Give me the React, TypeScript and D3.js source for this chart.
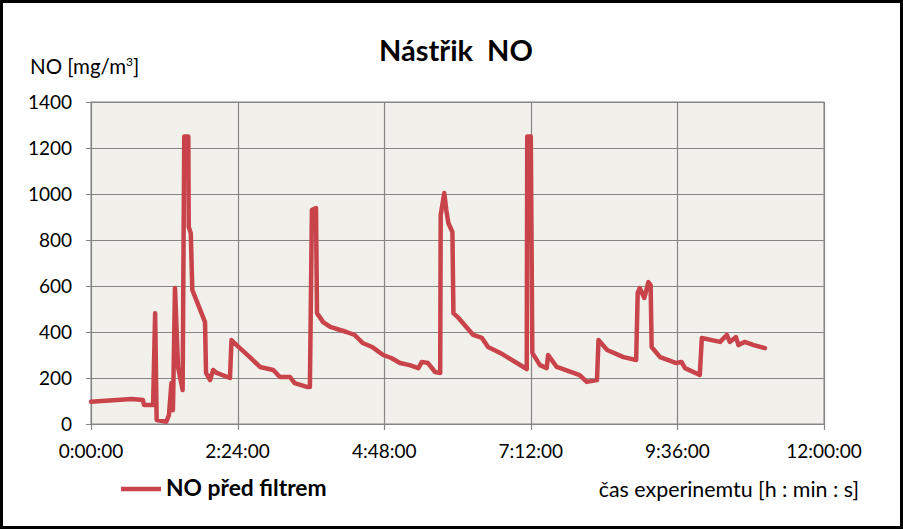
import * as React from "react";
import * as d3 from "d3";

// time since start of experiment [min]
const timeMin = [
  0, 40, 51, 52, 61, 63, 64.5, 74, 76.6, 79, 80.5, 82.5, 85.5, 90, 91.6, 95.6, 96, 98, 99.5,
  112, 113, 117, 120, 123.5, 136.5, 138, 143, 156, 166, 179, 185.6, 195.5, 200, 212, 215,
  217, 221, 222, 228, 235, 251, 259, 267, 276, 287, 295, 303.5, 313, 321.5, 325, 331, 338,
  343, 343.5, 347, 349, 351, 355, 356, 361, 375.5, 384, 390, 402, 428, 428.5, 432, 433.5,
  441, 447.6, 449, 457.5, 474, 480, 487, 497, 498.5, 507, 523, 535.5, 537, 539, 543.5,
  547.5, 549.7, 550.7, 559, 575, 580, 583.5, 598, 600, 618, 624.5, 627.5, 633.5, 636, 642,
  651, 662,
];

// NO před filtrem [mg/m3]
const noValues = [
  97, 109, 104, 83, 83, 482, 17, 10, 39, 178, 60, 591, 248, 148, 1250, 1250, 857, 830, 583,
  443, 222, 191, 235, 222, 200, 365, 343, 291, 248, 235, 204, 204, 178, 161, 161,
  930, 939, 482, 443, 422, 400, 387, 352, 335, 300, 287, 265, 256, 243, 270, 265, 226,
  222, 909, 1004, 930, 874, 835, 482, 461, 387, 374, 335, 309, 239, 1250, 1250, 309,
  256, 243, 300, 248, 222, 213, 183, 191, 365, 322, 291, 278, 570, 591, 548,
  617, 604, 335, 291, 265, 270, 243, 213, 374, 357, 387, 357, 378, 343, 357,
  343, 330,
];

const xTicks = [0, 144, 288, 432, 576, 720];
const yTicks = [0, 200, 400, 600, 800, 1000, 1200, 1400];

const title = "Nástřik  NO";
const seriesName = "NO před filtrem";
const xTitle = "čas experinemtu [h : min : s]";

function fmtTime(m: number) {
  const h = Math.floor(m / 60);
  const mm = Math.round(m % 60);
  return `${h}:${String(mm).padStart(2, "0")}:00`;
}

function drawChart(svgRef: React.RefObject<SVGSVGElement>) {
  const width = 903;
  const height = 529;
  const plot = { left: 91, right: 824, top: 102, bottom: 424 };
  const font = 'Lato, "Open Sans", sans-serif';
  const red = "#C9434A";

  const svg = d3.select(svgRef.current);
  svg.selectAll("*").remove();
  svg.attr("width", width).attr("height", height);

  // frame
  svg
    .append("rect")
    .attr("x", 1.5)
    .attr("y", 1.5)
    .attr("width", width - 3)
    .attr("height", height - 3)
    .attr("fill", "#fff")
    .attr("stroke", "#000")
    .attr("stroke-width", 3);

  const x = d3.scaleLinear().domain([0, 720]).range([plot.left, plot.right]);
  const y = d3.scaleLinear().domain([0, 1400]).range([plot.bottom, plot.top]);

  // plot area
  svg
    .append("rect")
    .attr("x", plot.left)
    .attr("y", plot.top)
    .attr("width", plot.right - plot.left)
    .attr("height", plot.bottom - plot.top)
    .attr("fill", "#F2F0EA")
    .attr("stroke", "#868686");

  // grid
  const grid = svg.append("g").attr("stroke", "#868686").attr("stroke-width", 1.2);
  yTicks.forEach((t) => {
    grid
      .append("line")
      .attr("x1", plot.left - 5)
      .attr("x2", plot.right)
      .attr("y1", Math.round(y(t)) + 0.5)
      .attr("y2", Math.round(y(t)) + 0.5);
  });
  xTicks.forEach((t) => {
    grid
      .append("line")
      .attr("x1", Math.round(x(t)) + 0.5)
      .attr("x2", Math.round(x(t)) + 0.5)
      .attr("y1", plot.top)
      .attr("y2", plot.bottom + 6);
  });

  // tick labels
  svg
    .append("g")
    .attr("font-family", font)
    .attr("font-size", 19)
    .attr("fill", "#000")
    .attr("text-anchor", "end")
    .selectAll("text")
    .data(yTicks)
    .enter()
    .append("text")
    .attr("x", plot.left - 19)
    .attr("y", (d) => y(d) + 7)
    .text((d) => String(d));

  svg
    .append("g")
    .attr("font-family", font)
    .attr("font-size", 19)
    .attr("fill", "#000")
    .attr("text-anchor", "middle")
    .selectAll("text")
    .data(xTicks)
    .enter()
    .append("text")
    .attr("x", (d) => x(d))
    .attr("y", 458)
    .text((d) => fmtTime(d));

  // line
  const pts = timeMin.map((t, i) => [t, noValues[i]] as [number, number]);
  const line = d3
    .line<[number, number]>()
    .x((d) => x(d[0]))
    .y((d) => y(d[1]));
  svg
    .append("path")
    .attr("d", line(pts))
    .attr("fill", "none")
    .attr("stroke", red)
    .attr("stroke-width", 4.5)
    .attr("stroke-linejoin", "round")
    .attr("stroke-linecap", "round");

  // title
  svg
    .append("text")
    .attr("x", 456)
    .attr("y", 61)
    .attr("text-anchor", "middle")
    .attr("font-family", font)
    .attr("font-weight", "bold")
    .attr("font-size", 29)
    .style("white-space", "pre")
    .text(title);

  // y title
  const yt = svg
    .append("text")
    .attr("x", 30)
    .attr("y", 74)
    .attr("font-family", font)
    .attr("font-size", 20.5);
  yt.append("tspan").text("NO [mg/m");
  yt.append("tspan").attr("font-size", 12).attr("dy", -8).text("3");
  yt.append("tspan").attr("dy", 8).text("]");

  // x title
  svg
    .append("text")
    .attr("x", 859)
    .attr("y", 497)
    .attr("text-anchor", "end")
    .attr("font-family", font)
    .attr("font-size", 21.4)
    .text(xTitle);

  // legend
  svg
    .append("line")
    .attr("x1", 121)
    .attr("x2", 161)
    .attr("y1", 489)
    .attr("y2", 489)
    .attr("stroke", red)
    .attr("stroke-width", 4.5);
  svg
    .append("text")
    .attr("x", 166)
    .attr("y", 496)
    .attr("font-family", font)
    .attr("font-weight", "bold")
    .attr("font-size", 22.8)
    .text(seriesName);
}

export default function App() {
  const svg = React.useRef<SVGSVGElement>(null);
  React.useEffect(() => {
    drawChart(svg);
  }, [svg]);

  return <svg ref={svg} style={{ position: "absolute", left: 0, top: 0 }} />;
}
